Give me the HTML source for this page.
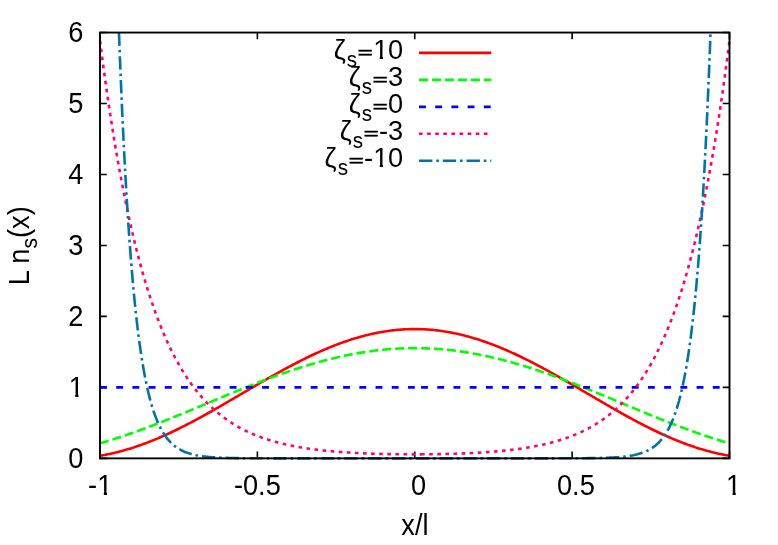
<!DOCTYPE html>
<html><head><meta charset="utf-8"><title>plot</title>
<style>
html,body{margin:0;padding:0;background:#fff;}
svg{display:block;will-change:transform;}
text{font-family:"Liberation Sans", sans-serif;font-size:27.2px;fill:#000;white-space:pre;}
</style></head><body>
<svg width="778" height="545" viewBox="0 0 778 545">
<rect x="0" y="0" width="778" height="545" fill="#ffffff"/>
<defs><clipPath id="c1" clipPathUnits="userSpaceOnUse"><path d="M-5 -40 H40 V-2.73 H9.64 V5 H6.44 V-2.73 H-5 Z"/></clipPath></defs>
<g stroke="#000" stroke-width="1.6" fill="none">
<path d="M100.00 458.35 v-6.80 M100.00 32.55 v6.80"/>
<path d="M257.38 458.35 v-6.80 M257.38 32.55 v6.80"/>
<path d="M414.75 458.35 v-6.80 M414.75 32.55 v6.80"/>
<path d="M572.12 458.35 v-6.80 M572.12 32.55 v6.80"/>
<path d="M729.50 458.35 v-6.80 M729.50 32.55 v6.80"/>
<path d="M100.00 458.35 h6.80 M729.50 458.35 h-6.80"/>
<path d="M100.00 387.38 h6.80 M729.50 387.38 h-6.80"/>
<path d="M100.00 316.42 h6.80 M729.50 316.42 h-6.80"/>
<path d="M100.00 245.45 h6.80 M729.50 245.45 h-6.80"/>
<path d="M100.00 174.48 h6.80 M729.50 174.48 h-6.80"/>
<path d="M100.00 103.52 h6.80 M729.50 103.52 h-6.80"/>
<path d="M100.00 32.55 h6.80 M729.50 32.55 h-6.80"/>
</g>
<g fill="none" stroke-width="2.6" stroke-linejoin="round" stroke-linecap="butt">
<path d="M100.00 455.76 L101.57 455.50 L103.15 455.22 L104.72 454.93 L106.30 454.63 L107.87 454.31 L109.44 453.99 L111.02 453.65 L112.59 453.29 L114.16 452.93 L115.74 452.55 L117.31 452.17 L118.89 451.77 L120.46 451.35 L122.03 450.93 L123.61 450.49 L125.18 450.05 L126.75 449.59 L128.33 449.12 L129.90 448.64 L131.47 448.14 L133.05 447.64 L134.62 447.13 L136.20 446.60 L137.77 446.06 L139.34 445.52 L140.92 444.96 L142.49 444.39 L144.06 443.81 L145.64 443.22 L147.21 442.63 L148.79 442.02 L150.36 441.40 L151.93 440.77 L153.51 440.13 L155.08 439.49 L156.65 438.83 L158.23 438.16 L159.80 437.49 L161.38 436.80 L162.95 436.11 L164.52 435.41 L166.10 434.70 L167.67 433.98 L169.25 433.25 L170.82 432.52 L172.39 431.78 L173.97 431.03 L175.54 430.27 L177.11 429.50 L178.69 428.73 L180.26 427.95 L181.84 427.16 L183.41 426.37 L184.98 425.57 L186.56 424.76 L188.13 423.95 L189.70 423.13 L191.28 422.31 L192.85 421.48 L194.43 420.64 L196.00 419.80 L197.57 418.95 L199.15 418.10 L200.72 417.24 L202.29 416.38 L203.87 415.51 L205.44 414.64 L207.02 413.76 L208.59 412.88 L210.16 412.00 L211.74 411.11 L213.31 410.22 L214.88 409.32 L216.46 408.43 L218.03 407.52 L219.61 406.62 L221.18 405.72 L222.75 404.81 L224.33 403.90 L225.90 402.98 L227.47 402.07 L229.05 401.15 L230.62 400.23 L232.19 399.31 L233.77 398.39 L235.34 397.47 L236.92 396.55 L238.49 395.63 L240.06 394.70 L241.64 393.78 L243.21 392.86 L244.78 391.93 L246.36 391.01 L247.93 390.09 L249.51 389.17 L251.08 388.24 L252.65 387.33 L254.23 386.41 L255.80 385.49 L257.38 384.57 L258.95 383.66 L260.52 382.75 L262.10 381.84 L263.67 380.93 L265.24 380.03 L266.82 379.13 L268.39 378.23 L269.97 377.34 L271.54 376.45 L273.11 375.56 L274.69 374.67 L276.26 373.79 L277.83 372.92 L279.41 372.04 L280.98 371.18 L282.55 370.31 L284.13 369.45 L285.70 368.60 L287.28 367.75 L288.85 366.91 L290.42 366.07 L292.00 365.24 L293.57 364.41 L295.14 363.59 L296.72 362.78 L298.29 361.97 L299.87 361.17 L301.44 360.38 L303.01 359.59 L304.59 358.81 L306.16 358.03 L307.74 357.27 L309.31 356.51 L310.88 355.76 L312.46 355.01 L314.03 354.28 L315.60 353.55 L317.18 352.83 L318.75 352.12 L320.33 351.42 L321.90 350.72 L323.47 350.04 L325.05 349.36 L326.62 348.69 L328.19 348.04 L329.77 347.39 L331.34 346.75 L332.91 346.12 L334.49 345.50 L336.06 344.89 L337.64 344.29 L339.21 343.70 L340.78 343.12 L342.36 342.55 L343.93 341.99 L345.50 341.44 L347.08 340.91 L348.65 340.38 L350.23 339.86 L351.80 339.36 L353.37 338.86 L354.95 338.38 L356.52 337.91 L358.10 337.45 L359.67 337.00 L361.24 336.56 L362.82 336.14 L364.39 335.72 L365.96 335.32 L367.54 334.93 L369.11 334.55 L370.69 334.19 L372.26 333.84 L373.83 333.49 L375.41 333.16 L376.98 332.85 L378.55 332.54 L380.13 332.25 L381.70 331.97 L383.28 331.71 L384.85 331.45 L386.42 331.21 L388.00 330.98 L389.57 330.77 L391.14 330.56 L392.72 330.37 L394.29 330.20 L395.87 330.03 L397.44 329.88 L399.01 329.74 L400.59 329.62 L402.16 329.51 L403.73 329.41 L405.31 329.32 L406.88 329.25 L408.45 329.19 L410.03 329.14 L411.60 329.11 L413.18 329.09 L414.75 329.08 L416.32 329.09 L417.90 329.11 L419.47 329.14 L421.05 329.19 L422.62 329.25 L424.19 329.32 L425.77 329.41 L427.34 329.51 L428.91 329.62 L430.49 329.74 L432.06 329.88 L433.63 330.03 L435.21 330.20 L436.78 330.37 L438.36 330.56 L439.93 330.77 L441.50 330.98 L443.08 331.21 L444.65 331.45 L446.23 331.71 L447.80 331.97 L449.37 332.25 L450.95 332.54 L452.52 332.85 L454.09 333.16 L455.67 333.49 L457.24 333.84 L458.82 334.19 L460.39 334.55 L461.96 334.93 L463.54 335.32 L465.11 335.72 L466.68 336.14 L468.26 336.56 L469.83 337.00 L471.40 337.45 L472.98 337.91 L474.55 338.38 L476.13 338.86 L477.70 339.36 L479.27 339.86 L480.85 340.38 L482.42 340.91 L484.00 341.44 L485.57 341.99 L487.14 342.55 L488.72 343.12 L490.29 343.70 L491.86 344.29 L493.44 344.89 L495.01 345.50 L496.58 346.12 L498.16 346.75 L499.73 347.39 L501.31 348.04 L502.88 348.69 L504.45 349.36 L506.03 350.04 L507.60 350.72 L509.18 351.42 L510.75 352.12 L512.32 352.83 L513.90 353.55 L515.47 354.28 L517.04 355.01 L518.62 355.76 L520.19 356.51 L521.77 357.27 L523.34 358.03 L524.91 358.81 L526.49 359.59 L528.06 360.38 L529.63 361.17 L531.21 361.97 L532.78 362.78 L534.36 363.59 L535.93 364.41 L537.50 365.24 L539.08 366.07 L540.65 366.91 L542.22 367.75 L543.80 368.60 L545.37 369.45 L546.94 370.31 L548.52 371.18 L550.09 372.04 L551.67 372.92 L553.24 373.79 L554.81 374.67 L556.39 375.56 L557.96 376.45 L559.53 377.34 L561.11 378.23 L562.68 379.13 L564.26 380.03 L565.83 380.93 L567.40 381.84 L568.98 382.75 L570.55 383.66 L572.12 384.57 L573.70 385.49 L575.27 386.41 L576.85 387.33 L578.42 388.24 L579.99 389.17 L581.57 390.09 L583.14 391.01 L584.72 391.93 L586.29 392.86 L587.86 393.78 L589.44 394.70 L591.01 395.63 L592.58 396.55 L594.16 397.47 L595.73 398.39 L597.31 399.31 L598.88 400.23 L600.45 401.15 L602.03 402.07 L603.60 402.98 L605.17 403.90 L606.75 404.81 L608.32 405.72 L609.89 406.62 L611.47 407.52 L613.04 408.43 L614.62 409.32 L616.19 410.22 L617.76 411.11 L619.34 412.00 L620.91 412.88 L622.49 413.76 L624.06 414.64 L625.63 415.51 L627.21 416.38 L628.78 417.24 L630.35 418.10 L631.93 418.95 L633.50 419.80 L635.07 420.64 L636.65 421.48 L638.22 422.31 L639.80 423.13 L641.37 423.95 L642.94 424.76 L644.52 425.57 L646.09 426.37 L647.66 427.16 L649.24 427.95 L650.81 428.73 L652.39 429.50 L653.96 430.27 L655.53 431.03 L657.11 431.78 L658.68 432.52 L660.25 433.25 L661.83 433.98 L663.40 434.70 L664.98 435.41 L666.55 436.11 L668.12 436.80 L669.70 437.49 L671.27 438.16 L672.85 438.83 L674.42 439.49 L675.99 440.13 L677.57 440.77 L679.14 441.40 L680.71 442.02 L682.29 442.63 L683.86 443.22 L685.44 443.81 L687.01 444.39 L688.58 444.96 L690.16 445.52 L691.73 446.06 L693.30 446.60 L694.88 447.13 L696.45 447.64 L698.03 448.14 L699.60 448.64 L701.17 449.12 L702.75 449.59 L704.32 450.05 L705.89 450.49 L707.47 450.93 L709.04 451.35 L710.62 451.77 L712.19 452.17 L713.76 452.55 L715.34 452.93 L716.91 453.29 L718.48 453.65 L720.06 453.99 L721.63 454.31 L723.21 454.63 L724.78 454.93 L726.35 455.22 L727.93 455.50 L729.50 455.76" stroke="#ff0000"/>
<path d="M100.00 443.31 L101.57 442.86 L103.15 442.40 L104.72 441.93 L106.30 441.46 L107.87 440.99 L109.44 440.51 L111.02 440.02 L112.59 439.53 L114.16 439.03 L115.74 438.53 L117.31 438.02 L118.89 437.51 L120.46 436.99 L122.03 436.47 L123.61 435.94 L125.18 435.41 L126.75 434.88 L128.33 434.34 L129.90 433.79 L131.47 433.24 L133.05 432.69 L134.62 432.13 L136.20 431.57 L137.77 431.00 L139.34 430.43 L140.92 429.86 L142.49 429.28 L144.06 428.70 L145.64 428.12 L147.21 427.53 L148.79 426.94 L150.36 426.34 L151.93 425.75 L153.51 425.14 L155.08 424.54 L156.65 423.93 L158.23 423.32 L159.80 422.71 L161.38 422.09 L162.95 421.47 L164.52 420.85 L166.10 420.23 L167.67 419.60 L169.25 418.97 L170.82 418.34 L172.39 417.71 L173.97 417.07 L175.54 416.44 L177.11 415.80 L178.69 415.16 L180.26 414.52 L181.84 413.87 L183.41 413.23 L184.98 412.58 L186.56 411.93 L188.13 411.28 L189.70 410.63 L191.28 409.98 L192.85 409.33 L194.43 408.67 L196.00 408.02 L197.57 407.36 L199.15 406.71 L200.72 406.05 L202.29 405.40 L203.87 404.74 L205.44 404.08 L207.02 403.42 L208.59 402.77 L210.16 402.11 L211.74 401.45 L213.31 400.80 L214.88 400.14 L216.46 399.48 L218.03 398.83 L219.61 398.17 L221.18 397.52 L222.75 396.87 L224.33 396.22 L225.90 395.56 L227.47 394.91 L229.05 394.27 L230.62 393.62 L232.19 392.97 L233.77 392.33 L235.34 391.68 L236.92 391.04 L238.49 390.40 L240.06 389.76 L241.64 389.13 L243.21 388.49 L244.78 387.86 L246.36 387.23 L247.93 386.60 L249.51 385.98 L251.08 385.36 L252.65 384.74 L254.23 384.12 L255.80 383.50 L257.38 382.89 L258.95 382.28 L260.52 381.68 L262.10 381.07 L263.67 380.47 L265.24 379.88 L266.82 379.28 L268.39 378.69 L269.97 378.11 L271.54 377.52 L273.11 376.94 L274.69 376.37 L276.26 375.80 L277.83 375.23 L279.41 374.66 L280.98 374.11 L282.55 373.55 L284.13 373.00 L285.70 372.45 L287.28 371.91 L288.85 371.37 L290.42 370.84 L292.00 370.31 L293.57 369.78 L295.14 369.26 L296.72 368.75 L298.29 368.24 L299.87 367.73 L301.44 367.23 L303.01 366.74 L304.59 366.25 L306.16 365.76 L307.74 365.29 L309.31 364.81 L310.88 364.34 L312.46 363.88 L314.03 363.42 L315.60 362.97 L317.18 362.53 L318.75 362.09 L320.33 361.65 L321.90 361.23 L323.47 360.80 L325.05 360.39 L326.62 359.98 L328.19 359.57 L329.77 359.18 L331.34 358.78 L332.91 358.40 L334.49 358.02 L336.06 357.65 L337.64 357.28 L339.21 356.92 L340.78 356.57 L342.36 356.23 L343.93 355.89 L345.50 355.55 L347.08 355.23 L348.65 354.91 L350.23 354.60 L351.80 354.29 L353.37 353.99 L354.95 353.70 L356.52 353.42 L358.10 353.14 L359.67 352.87 L361.24 352.61 L362.82 352.35 L364.39 352.10 L365.96 351.86 L367.54 351.63 L369.11 351.40 L370.69 351.18 L372.26 350.97 L373.83 350.77 L375.41 350.57 L376.98 350.38 L378.55 350.20 L380.13 350.03 L381.70 349.86 L383.28 349.70 L384.85 349.55 L386.42 349.41 L388.00 349.27 L389.57 349.14 L391.14 349.02 L392.72 348.91 L394.29 348.80 L395.87 348.70 L397.44 348.61 L399.01 348.53 L400.59 348.46 L402.16 348.39 L403.73 348.33 L405.31 348.28 L406.88 348.24 L408.45 348.20 L410.03 348.18 L411.60 348.16 L413.18 348.14 L414.75 348.14 L416.32 348.14 L417.90 348.16 L419.47 348.18 L421.05 348.20 M421.05 348.20 L421.05 348.20 L422.62 348.24 L424.19 348.28 L425.77 348.33 L427.34 348.39 L428.91 348.46 L430.49 348.53 L432.06 348.61 L433.63 348.70 L435.21 348.80 L436.78 348.91 L438.36 349.02 L439.93 349.14 L441.50 349.27 L443.08 349.41 L444.65 349.55 L446.23 349.70 L447.80 349.86 L449.37 350.03 L450.95 350.20 L452.52 350.38 L454.09 350.57 L455.67 350.77 L457.24 350.97 L458.82 351.18 L460.39 351.40 L461.96 351.63 L463.54 351.86 L465.11 352.10 L466.68 352.35 L468.26 352.61 L469.83 352.87 L471.40 353.14 L472.98 353.42 L474.55 353.70 L476.13 353.99 L477.70 354.29 L479.27 354.60 L480.85 354.91 L482.42 355.23 L484.00 355.55 L485.57 355.89 L487.14 356.23 L488.72 356.57 L490.29 356.92 L491.86 357.28 L493.44 357.65 L495.01 358.02 L496.58 358.40 L498.16 358.78 L499.73 359.18 L501.31 359.57 L502.88 359.98 L504.45 360.39 L506.03 360.80 L507.60 361.23 L509.18 361.65 L510.75 362.09 L512.32 362.53 L513.90 362.97 L515.47 363.42 L517.04 363.88 L518.62 364.34 L520.19 364.81 L521.77 365.29 L523.34 365.76 L524.91 366.25 L526.49 366.74 L528.06 367.23 L529.63 367.73 L531.21 368.24 L532.78 368.75 L534.36 369.26 L535.93 369.78 L537.50 370.31 L539.08 370.84 L540.65 371.37 L542.22 371.91 L543.80 372.45 L545.37 373.00 L546.94 373.55 L548.52 374.11 L550.09 374.66 L551.67 375.23 L553.24 375.80 L554.81 376.37 L556.39 376.94 L557.96 377.52 L559.53 378.11 L561.11 378.69 L562.68 379.28 L564.26 379.88 L565.83 380.47 L567.40 381.07 L568.98 381.68 L570.55 382.28 L572.12 382.89 L573.70 383.50 L575.27 384.12 L576.85 384.74 L578.42 385.36 L579.99 385.98 L581.57 386.60 L583.14 387.23 L584.72 387.86 L586.29 388.49 L587.86 389.13 L589.44 389.76 L591.01 390.40 L592.58 391.04 L594.16 391.68 L595.73 392.33 L597.31 392.97 L598.88 393.62 L600.45 394.27 L602.03 394.91 L603.60 395.56 L605.17 396.22 L606.75 396.87 L608.32 397.52 L609.89 398.17 L611.47 398.83 L613.04 399.48 L614.62 400.14 L616.19 400.80 L617.76 401.45 L619.34 402.11 L620.91 402.77 L622.49 403.42 L624.06 404.08 L625.63 404.74 L627.21 405.40 L628.78 406.05 L630.35 406.71 L631.93 407.36 L633.50 408.02 L635.07 408.67 L636.65 409.33 L638.22 409.98 L639.80 410.63 L641.37 411.28 L642.94 411.93 L644.52 412.58 L646.09 413.23 L647.66 413.87 L649.24 414.52 L650.81 415.16 L652.39 415.80 L653.96 416.44 L655.53 417.07 L657.11 417.71 L658.68 418.34 L660.25 418.97 L661.83 419.60 L663.40 420.23 L664.98 420.85 L666.55 421.47 L668.12 422.09 L669.70 422.71 L671.27 423.32 L672.85 423.93 L674.42 424.54 L675.99 425.14 L677.57 425.75 L679.14 426.34 L680.71 426.94 L682.29 427.53 L683.86 428.12 L685.44 428.70 L687.01 429.28 L688.58 429.86 L690.16 430.43 L691.73 431.00 L693.30 431.57 L694.88 432.13 L696.45 432.69 L698.03 433.24 L699.60 433.79 L701.17 434.34 L702.75 434.88 L704.32 435.41 L705.89 435.94 L707.47 436.47 L709.04 436.99 L710.62 437.51 L712.19 438.02 L713.76 438.53 L715.34 439.03 L716.91 439.53 L718.48 440.02 L720.06 440.51 L721.63 440.99 L723.21 441.46 L724.78 441.93 L726.35 442.40 L727.93 442.86 L729.50 443.31" stroke="#00ff00" stroke-dasharray="9.044 3.922"/>
<path d="M100.00 387.38 L101.57 387.38 L103.15 387.38 L104.72 387.38 L106.30 387.38 L107.87 387.38 L109.44 387.38 L111.02 387.38 L112.59 387.38 L114.16 387.38 L115.74 387.38 L117.31 387.38 L118.89 387.38 L120.46 387.38 L122.03 387.38 L123.61 387.38 L125.18 387.38 L126.75 387.38 L128.33 387.38 L129.90 387.38 L131.47 387.38 L133.05 387.38 L134.62 387.38 L136.20 387.38 L137.77 387.38 L139.34 387.38 L140.92 387.38 L142.49 387.38 L144.06 387.38 L145.64 387.38 L147.21 387.38 L148.79 387.38 L150.36 387.38 L151.93 387.38 L153.51 387.38 L155.08 387.38 L156.65 387.38 L158.23 387.38 L159.80 387.38 L161.38 387.38 L162.95 387.38 L164.52 387.38 L166.10 387.38 L167.67 387.38 L169.25 387.38 L170.82 387.38 L172.39 387.38 L173.97 387.38 L175.54 387.38 L177.11 387.38 L178.69 387.38 L180.26 387.38 L181.84 387.38 L183.41 387.38 L184.98 387.38 L186.56 387.38 L188.13 387.38 L189.70 387.38 L191.28 387.38 L192.85 387.38 L194.43 387.38 L196.00 387.38 L197.57 387.38 L199.15 387.38 L200.72 387.38 L202.29 387.38 L203.87 387.38 L205.44 387.38 L207.02 387.38 L208.59 387.38 L210.16 387.38 L211.74 387.38 L213.31 387.38 L214.88 387.38 L216.46 387.38 L218.03 387.38 L219.61 387.38 L221.18 387.38 L222.75 387.38 L224.33 387.38 L225.90 387.38 L227.47 387.38 L229.05 387.38 L230.62 387.38 L232.19 387.38 L233.77 387.38 L235.34 387.38 L236.92 387.38 L238.49 387.38 L240.06 387.38 L241.64 387.38 L243.21 387.38 L244.78 387.38 L246.36 387.38 L247.93 387.38 L249.51 387.38 L251.08 387.38 L252.65 387.38 L254.23 387.38 L255.80 387.38 L257.38 387.38 L258.95 387.38 L260.52 387.38 L262.10 387.38 L263.67 387.38 L265.24 387.38 L266.82 387.38 L268.39 387.38 L269.97 387.38 L271.54 387.38 L273.11 387.38 L274.69 387.38 L276.26 387.38 L277.83 387.38 L279.41 387.38 L280.98 387.38 L282.55 387.38 L284.13 387.38 L285.70 387.38 L287.28 387.38 L288.85 387.38 L290.42 387.38 L292.00 387.38 L293.57 387.38 L295.14 387.38 L296.72 387.38 L298.29 387.38 L299.87 387.38 L301.44 387.38 L303.01 387.38 L304.59 387.38 L306.16 387.38 L307.74 387.38 L309.31 387.38 L310.88 387.38 L312.46 387.38 L314.03 387.38 L315.60 387.38 L317.18 387.38 L318.75 387.38 L320.33 387.38 L321.90 387.38 L323.47 387.38 L325.05 387.38 L326.62 387.38 L328.19 387.38 L329.77 387.38 L331.34 387.38 L332.91 387.38 L334.49 387.38 L336.06 387.38 L337.64 387.38 L339.21 387.38 L340.78 387.38 L342.36 387.38 L343.93 387.38 L345.50 387.38 L347.08 387.38 L348.65 387.38 L350.23 387.38 L351.80 387.38 L353.37 387.38 L354.95 387.38 L356.52 387.38 L358.10 387.38 L359.67 387.38 L361.24 387.38 L362.82 387.38 L364.39 387.38 L365.96 387.38 L367.54 387.38 L369.11 387.38 L370.69 387.38 L372.26 387.38 L373.83 387.38 L375.41 387.38 L376.98 387.38 L378.55 387.38 L380.13 387.38 L381.70 387.38 L383.28 387.38 L384.85 387.38 L386.42 387.38 L388.00 387.38 L389.57 387.38 L391.14 387.38 L392.72 387.38 L394.29 387.38 L395.87 387.38 L397.44 387.38 L399.01 387.38 L400.59 387.38 L402.16 387.38 L403.73 387.38 L405.31 387.38 L406.88 387.38 L408.45 387.38 L410.03 387.38 L411.60 387.38 L413.18 387.38 L414.75 387.38 L416.32 387.38 L417.90 387.38 L419.47 387.38 L421.05 387.38 M421.05 387.38 L421.05 387.38 L422.62 387.38 L424.19 387.38 L425.77 387.38 L427.34 387.38 L428.91 387.38 L430.49 387.38 L432.06 387.38 L433.63 387.38 L435.21 387.38 L436.78 387.38 L438.36 387.38 L439.93 387.38 L441.50 387.38 L443.08 387.38 L444.65 387.38 L446.23 387.38 L447.80 387.38 L449.37 387.38 L450.95 387.38 L452.52 387.38 L454.09 387.38 L455.67 387.38 L457.24 387.38 L458.82 387.38 L460.39 387.38 L461.96 387.38 L463.54 387.38 L465.11 387.38 L466.68 387.38 L468.26 387.38 L469.83 387.38 L471.40 387.38 L472.98 387.38 L474.55 387.38 L476.13 387.38 L477.70 387.38 L479.27 387.38 L480.85 387.38 L482.42 387.38 L484.00 387.38 L485.57 387.38 L487.14 387.38 L488.72 387.38 L490.29 387.38 L491.86 387.38 L493.44 387.38 L495.01 387.38 L496.58 387.38 L498.16 387.38 L499.73 387.38 L501.31 387.38 L502.88 387.38 L504.45 387.38 L506.03 387.38 L507.60 387.38 L509.18 387.38 L510.75 387.38 L512.32 387.38 L513.90 387.38 L515.47 387.38 L517.04 387.38 L518.62 387.38 L520.19 387.38 L521.77 387.38 L523.34 387.38 L524.91 387.38 L526.49 387.38 L528.06 387.38 L529.63 387.38 L531.21 387.38 L532.78 387.38 L534.36 387.38 L535.93 387.38 L537.50 387.38 L539.08 387.38 L540.65 387.38 L542.22 387.38 L543.80 387.38 L545.37 387.38 L546.94 387.38 L548.52 387.38 L550.09 387.38 L551.67 387.38 L553.24 387.38 L554.81 387.38 L556.39 387.38 L557.96 387.38 L559.53 387.38 L561.11 387.38 L562.68 387.38 L564.26 387.38 L565.83 387.38 L567.40 387.38 L568.98 387.38 L570.55 387.38 L572.12 387.38 L573.70 387.38 L575.27 387.38 L576.85 387.38 L578.42 387.38 L579.99 387.38 L581.57 387.38 L583.14 387.38 L584.72 387.38 L586.29 387.38 L587.86 387.38 L589.44 387.38 L591.01 387.38 L592.58 387.38 L594.16 387.38 L595.73 387.38 L597.31 387.38 L598.88 387.38 L600.45 387.38 L602.03 387.38 L603.60 387.38 L605.17 387.38 L606.75 387.38 L608.32 387.38 L609.89 387.38 L611.47 387.38 L613.04 387.38 L614.62 387.38 L616.19 387.38 L617.76 387.38 L619.34 387.38 L620.91 387.38 L622.49 387.38 L624.06 387.38 L625.63 387.38 L627.21 387.38 L628.78 387.38 L630.35 387.38 L631.93 387.38 L633.50 387.38 L635.07 387.38 L636.65 387.38 L638.22 387.38 L639.80 387.38 L641.37 387.38 L642.94 387.38 L644.52 387.38 L646.09 387.38 L647.66 387.38 L649.24 387.38 L650.81 387.38 L652.39 387.38 L653.96 387.38 L655.53 387.38 L657.11 387.38 L658.68 387.38 L660.25 387.38 L661.83 387.38 L663.40 387.38 L664.98 387.38 L666.55 387.38 L668.12 387.38 L669.70 387.38 L671.27 387.38 L672.85 387.38 L674.42 387.38 L675.99 387.38 L677.57 387.38 L679.14 387.38 L680.71 387.38 L682.29 387.38 L683.86 387.38 L685.44 387.38 L687.01 387.38 L688.58 387.38 L690.16 387.38 L691.73 387.38 L693.30 387.38 L694.88 387.38 L696.45 387.38 L698.03 387.38 L699.60 387.38 L701.17 387.38 L702.75 387.38 L704.32 387.38 L705.89 387.38 L707.47 387.38 L709.04 387.38 L710.62 387.38 L712.19 387.38 L713.76 387.38 L715.34 387.38 L716.91 387.38 L718.48 387.38 L720.06 387.38 L721.63 387.38 L723.21 387.38 L724.78 387.38 L726.35 387.38 L727.93 387.38 L729.50 387.38" stroke="#0000ff" stroke-dasharray="6.883 9.325"/>
<path d="M100.00 40.56 L101.57 52.91 L103.15 64.89 L104.72 76.51 L106.30 87.79 L107.87 98.73 L109.44 109.35 L111.02 119.66 L112.59 129.65 L114.16 139.36 L115.74 148.77 L117.31 157.90 L118.89 166.76 L120.46 175.36 L122.03 183.71 L123.61 191.80 L125.18 199.66 L126.75 207.28 L128.33 214.68 L129.90 221.85 L131.47 228.82 L133.05 235.57 L134.62 242.13 L136.20 248.49 L137.77 254.66 L139.34 260.65 L140.92 266.46 L142.49 272.10 L144.06 277.57 L145.64 282.88 L147.21 288.03 L148.79 293.03 L150.36 297.88 L151.93 302.58 L153.51 307.15 L155.08 311.58 L156.65 315.88 L158.23 320.05 L159.80 324.09 L161.38 328.02 L162.95 331.83 L164.52 335.53 L166.10 339.12 L167.67 342.60 L169.25 345.97 L170.82 349.25 L172.39 352.43 L173.97 355.52 L175.54 358.51 L177.11 361.41 L178.69 364.23 L180.26 366.97 L181.84 369.62 L183.41 372.19 L184.98 374.69 L186.56 377.12 L188.13 379.47 L189.70 381.75 L191.28 383.97 L192.85 386.11 L194.43 388.20 L196.00 390.22 L197.57 392.18 L199.15 394.09 L200.72 395.94 L202.29 397.73 L203.87 399.47 L205.44 401.16 L207.02 402.79 L208.59 404.38 L210.16 405.93 L211.74 407.42 L213.31 408.87 L214.88 410.28 L216.46 411.65 L218.03 412.97 L219.61 414.26 L221.18 415.51 L222.75 416.72 L224.33 417.90 L225.90 419.04 L227.47 420.14 L229.05 421.22 L230.62 422.26 L232.19 423.27 L233.77 424.25 L235.34 425.20 L236.92 426.12 L238.49 427.02 L240.06 427.89 L241.64 428.73 L243.21 429.55 L244.78 430.34 L246.36 431.11 L247.93 431.86 L249.51 432.58 L251.08 433.29 L252.65 433.97 L254.23 434.63 L255.80 435.27 L257.38 435.90 L258.95 436.50 L260.52 437.09 L262.10 437.65 L263.67 438.21 L265.24 438.74 L266.82 439.26 L268.39 439.77 L269.97 440.25 L271.54 440.73 L273.11 441.19 L274.69 441.63 L276.26 442.07 L277.83 442.49 L279.41 442.89 L280.98 443.29 L282.55 443.67 L284.13 444.04 L285.70 444.40 L287.28 444.75 L288.85 445.09 L290.42 445.42 L292.00 445.74 L293.57 446.05 L295.14 446.35 L296.72 446.64 L298.29 446.92 L299.87 447.20 L301.44 447.46 L303.01 447.72 L304.59 447.97 L306.16 448.21 L307.74 448.44 L309.31 448.67 L310.88 448.89 L312.46 449.10 L314.03 449.31 L315.60 449.51 L317.18 449.70 L318.75 449.89 L320.33 450.07 L321.90 450.25 L323.47 450.42 L325.05 450.59 L326.62 450.75 L328.19 450.90 L329.77 451.05 L331.34 451.20 L332.91 451.34 L334.49 451.47 L336.06 451.61 L337.64 451.73 L339.21 451.86 L340.78 451.98 L342.36 452.09 L343.93 452.20 L345.50 452.31 L347.08 452.41 L348.65 452.51 L350.23 452.61 L351.80 452.70 L353.37 452.79 L354.95 452.88 L356.52 452.97 L358.10 453.05 L359.67 453.12 L361.24 453.20 L362.82 453.27 L364.39 453.34 L365.96 453.41 L367.54 453.47 L369.11 453.53 L370.69 453.59 L372.26 453.64 L373.83 453.70 L375.41 453.75 L376.98 453.80 L378.55 453.84 L380.13 453.89 L381.70 453.93 L383.28 453.97 L384.85 454.01 L386.42 454.04 L388.00 454.08 L389.57 454.11 L391.14 454.14 L392.72 454.16 L394.29 454.19 L395.87 454.21 L397.44 454.23 L399.01 454.25 L400.59 454.27 L402.16 454.29 L403.73 454.30 L405.31 454.31 L406.88 454.32 L408.45 454.33 L410.03 454.34 L411.60 454.34 L413.18 454.34 L414.75 454.35 L416.32 454.34 L417.90 454.34 L419.47 454.34 L421.05 454.33 M421.05 454.33 L421.05 454.33 L422.62 454.32 L424.19 454.31 L425.77 454.30 L427.34 454.29 L428.91 454.27 L430.49 454.25 L432.06 454.23 L433.63 454.21 L435.21 454.19 L436.78 454.16 L438.36 454.14 L439.93 454.11 L441.50 454.08 L443.08 454.04 L444.65 454.01 L446.23 453.97 L447.80 453.93 L449.37 453.89 L450.95 453.84 L452.52 453.80 L454.09 453.75 L455.67 453.70 L457.24 453.64 L458.82 453.59 L460.39 453.53 L461.96 453.47 L463.54 453.41 L465.11 453.34 L466.68 453.27 L468.26 453.20 L469.83 453.12 L471.40 453.05 L472.98 452.97 L474.55 452.88 L476.13 452.79 L477.70 452.70 L479.27 452.61 L480.85 452.51 L482.42 452.41 L484.00 452.31 L485.57 452.20 L487.14 452.09 L488.72 451.98 L490.29 451.86 L491.86 451.73 L493.44 451.61 L495.01 451.47 L496.58 451.34 L498.16 451.20 L499.73 451.05 L501.31 450.90 L502.88 450.75 L504.45 450.59 L506.03 450.42 L507.60 450.25 L509.18 450.07 L510.75 449.89 L512.32 449.70 L513.90 449.51 L515.47 449.31 L517.04 449.10 L518.62 448.89 L520.19 448.67 L521.77 448.44 L523.34 448.21 L524.91 447.97 L526.49 447.72 L528.06 447.46 L529.63 447.20 L531.21 446.92 L532.78 446.64 L534.36 446.35 L535.93 446.05 L537.50 445.74 L539.08 445.42 L540.65 445.09 L542.22 444.75 L543.80 444.40 L545.37 444.04 L546.94 443.67 L548.52 443.29 L550.09 442.89 L551.67 442.49 L553.24 442.07 L554.81 441.63 L556.39 441.19 L557.96 440.73 L559.53 440.25 L561.11 439.77 L562.68 439.26 L564.26 438.74 L565.83 438.21 L567.40 437.65 L568.98 437.09 L570.55 436.50 L572.12 435.90 L573.70 435.27 L575.27 434.63 L576.85 433.97 L578.42 433.29 L579.99 432.58 L581.57 431.86 L583.14 431.11 L584.72 430.34 L586.29 429.55 L587.86 428.73 L589.44 427.89 L591.01 427.02 L592.58 426.12 L594.16 425.20 L595.73 424.25 L597.31 423.27 L598.88 422.26 L600.45 421.22 L602.03 420.14 L603.60 419.04 L605.17 417.90 L606.75 416.72 L608.32 415.51 L609.89 414.26 L611.47 412.97 L613.04 411.65 L614.62 410.28 L616.19 408.87 L617.76 407.42 L619.34 405.93 L620.91 404.38 L622.49 402.79 L624.06 401.16 L625.63 399.47 L627.21 397.73 L628.78 395.94 L630.35 394.09 L631.93 392.18 L633.50 390.22 L635.07 388.20 L636.65 386.11 L638.22 383.97 L639.80 381.75 L641.37 379.47 L642.94 377.12 L644.52 374.69 L646.09 372.19 L647.66 369.62 L649.24 366.97 L650.81 364.23 L652.39 361.41 L653.96 358.51 L655.53 355.52 L657.11 352.43 L658.68 349.25 L660.25 345.97 L661.83 342.60 L663.40 339.12 L664.98 335.53 L666.55 331.83 L668.12 328.02 L669.70 324.09 L671.27 320.05 L672.85 315.88 L674.42 311.58 L675.99 307.15 L677.57 302.58 L679.14 297.88 L680.71 293.03 L682.29 288.03 L683.86 282.88 L685.44 277.57 L687.01 272.10 L688.58 266.46 L690.16 260.65 L691.73 254.66 L693.30 248.49 L694.88 242.13 L696.45 235.57 L698.03 228.82 L699.60 221.85 L701.17 214.68 L702.75 207.28 L704.32 199.66 L705.89 191.80 L707.47 183.71 L709.04 175.36 L710.62 166.76 L712.19 157.90 L713.76 148.77 L715.34 139.36 L716.91 129.65 L718.48 119.66 L720.06 109.35 L721.63 98.73 L723.21 87.79 L724.78 76.51 L726.35 64.89 L727.93 52.91 L729.50 40.56" stroke="#ff0078" stroke-dasharray="3.642 4.462"/>
<path d="M118.95 32.55 L120.46 71.54 L122.03 108.35 L123.61 141.65 L125.18 171.79 L126.75 199.06 L128.33 223.74 L129.90 246.06 L131.47 266.26 L133.05 284.54 L134.62 301.08 L136.20 316.05 L137.77 329.59 L139.34 341.84 L140.92 352.93 L142.49 362.96 L144.06 372.04 L145.64 380.25 L147.21 387.69 L148.79 394.41 L150.36 400.49 L151.93 406.00 L153.51 410.98 L155.08 415.49 L156.65 419.57 L158.23 423.26 L159.80 426.60 L161.38 429.62 L162.95 432.35 L164.52 434.83 L166.10 437.07 L167.67 439.09 L169.25 440.92 L170.82 442.58 L172.39 444.08 L173.97 445.44 L175.54 446.67 L177.11 447.78 L178.69 448.79 L180.26 449.70 L181.84 450.52 L183.41 451.27 L184.98 451.94 L186.56 452.55 L188.13 453.10 L189.70 453.60 L191.28 454.05 L192.85 454.46 L194.43 454.83 L196.00 455.17 L197.57 455.47 L199.15 455.74 L200.72 455.99 L202.29 456.22 L203.87 456.42 L205.44 456.60 L207.02 456.77 L208.59 456.92 L210.16 457.06 L211.74 457.18 L213.31 457.29 L214.88 457.39 L216.46 457.48 L218.03 457.56 L219.61 457.64 L221.18 457.71 L222.75 457.77 L224.33 457.82 L225.90 457.87 L227.47 457.92 L229.05 457.96 L230.62 458.00 L232.19 458.03 L233.77 458.06 L235.34 458.09 L236.92 458.11 L238.49 458.14 L240.06 458.16 L241.64 458.17 L243.21 458.19 L244.78 458.21 L246.36 458.22 L247.93 458.23 L249.51 458.24 L251.08 458.25 L252.65 458.26 L254.23 458.27 L255.80 458.28 L257.38 458.29 L258.95 458.29 L260.52 458.30 L262.10 458.30 L263.67 458.31 L265.24 458.31 L266.82 458.31 L268.39 458.32 L269.97 458.32 L271.54 458.32 L273.11 458.33 L274.69 458.33 L276.26 458.33 L277.83 458.33 L279.41 458.33 L280.98 458.34 L282.55 458.34 L284.13 458.34 L285.70 458.34 L287.28 458.34 L288.85 458.34 L290.42 458.34 L292.00 458.34 L293.57 458.34 L295.14 458.34 L296.72 458.34 L298.29 458.35 L299.87 458.35 L301.44 458.35 L303.01 458.35 L304.59 458.35 L306.16 458.35 L307.74 458.35 L309.31 458.35 L310.88 458.35 L312.46 458.35 L314.03 458.35 L315.60 458.35 L317.18 458.35 L318.75 458.35 L320.33 458.35 L321.90 458.35 L323.47 458.35 L325.05 458.35 L326.62 458.35 L328.19 458.35 L329.77 458.35 L331.34 458.35 L332.91 458.35 L334.49 458.35 L336.06 458.35 L337.64 458.35 L339.21 458.35 L340.78 458.35 L342.36 458.35 L343.93 458.35 L345.50 458.35 L347.08 458.35 L348.65 458.35 L350.23 458.35 L351.80 458.35 L353.37 458.35 L354.95 458.35 L356.52 458.35 L358.10 458.35 L359.67 458.35 L361.24 458.35 L362.82 458.35 L364.39 458.35 L365.96 458.35 L367.54 458.35 L369.11 458.35 L370.69 458.35 L372.26 458.35 L373.83 458.35 L375.41 458.35 L376.98 458.35 L378.55 458.35 L380.13 458.35 L381.70 458.35 L383.28 458.35 L384.85 458.35 L386.42 458.35 L388.00 458.35 L389.57 458.35 L391.14 458.35 L392.72 458.35 L394.29 458.35 L395.87 458.35 L397.44 458.35 L399.01 458.35 L400.59 458.35 L402.16 458.35 L403.73 458.35 L405.31 458.35 L406.88 458.35 L408.45 458.35 L410.03 458.35 L411.60 458.35 L413.18 458.35 L414.75 458.35 L416.32 458.35 L417.90 458.35 L419.47 458.35 L421.05 458.35 L422.62 458.35 L424.19 458.35 L425.77 458.35 L427.34 458.35 L428.91 458.35 L430.49 458.35 L432.06 458.35 L433.63 458.35 L435.21 458.35 L436.78 458.35 L438.36 458.35 L439.93 458.35 L441.50 458.35 L443.08 458.35 L444.65 458.35 L446.23 458.35 L447.80 458.35 L449.37 458.35 L450.95 458.35 L452.52 458.35 L454.09 458.35 L455.67 458.35 L457.24 458.35 L458.82 458.35 L460.39 458.35 L461.96 458.35 L463.54 458.35 L465.11 458.35 L466.68 458.35 L468.26 458.35 L469.83 458.35 L471.40 458.35 L472.98 458.35 L474.55 458.35 L476.13 458.35 L477.70 458.35 L479.27 458.35 L480.85 458.35 L482.42 458.35 L484.00 458.35 L485.57 458.35 L487.14 458.35 L488.72 458.35 L490.29 458.35 L491.86 458.35 L493.44 458.35 L495.01 458.35 L496.58 458.35 L498.16 458.35 L499.73 458.35 L501.31 458.35 L502.88 458.35 L504.45 458.35 L506.03 458.35 L507.60 458.35 L509.18 458.35 L510.75 458.35 L512.32 458.35 L513.90 458.35 L515.47 458.35 L517.04 458.35 L518.62 458.35 L520.19 458.35 L521.77 458.35 L523.34 458.35 L524.91 458.35 L526.49 458.35 L528.06 458.35 L529.63 458.35 L531.21 458.35 L532.78 458.34 L534.36 458.34 L535.93 458.34 L537.50 458.34 L539.08 458.34 L540.65 458.34 L542.22 458.34 L543.80 458.34 L545.37 458.34 L546.94 458.34 L548.52 458.34 L550.09 458.33 L551.67 458.33 L553.24 458.33 L554.81 458.33 L556.39 458.33 L557.96 458.32 L559.53 458.32 L561.11 458.32 L562.68 458.31 L564.26 458.31 L565.83 458.31 L567.40 458.30 L568.98 458.30 L570.55 458.29 L572.12 458.29 L573.70 458.28 L575.27 458.27 L576.85 458.26 L578.42 458.25 L579.99 458.24 L581.57 458.23 L583.14 458.22 L584.72 458.21 L586.29 458.19 L587.86 458.17 L589.44 458.16 L591.01 458.14 L592.58 458.11 L594.16 458.09 L595.73 458.06 L597.31 458.03 L598.88 458.00 L600.45 457.96 L602.03 457.92 L603.60 457.87 L605.17 457.82 L606.75 457.77 L608.32 457.71 L609.89 457.64 L611.47 457.56 L613.04 457.48 L614.62 457.39 L616.19 457.29 L617.76 457.18 L619.34 457.06 L620.91 456.92 L622.49 456.77 L624.06 456.60 L625.63 456.42 L627.21 456.22 L628.78 455.99 L630.35 455.74 L631.93 455.47 L633.50 455.17 L635.07 454.83 L636.65 454.46 L638.22 454.05 L639.80 453.60 L641.37 453.10 L642.94 452.55 L644.52 451.94 L646.09 451.27 L647.66 450.52 L649.24 449.70 L650.81 448.79 L652.39 447.78 L653.96 446.67 L655.53 445.44 L657.11 444.08 L658.68 442.58 L660.25 440.92 L661.83 439.09 L663.40 437.07 L664.98 434.83 L666.55 432.35 L668.12 429.62 L669.70 426.60 L671.27 423.26 L672.85 419.57 L674.42 415.49 L675.99 410.98 L677.57 406.00 L679.14 400.49 L680.71 394.41 L682.29 387.69 L683.86 380.25 L685.44 372.04 L687.01 362.96 L688.58 352.93 L690.16 341.84 L691.73 329.59 L693.30 316.05 L694.88 301.08 L696.45 284.54 L698.03 266.26 L699.60 246.06 L701.17 223.74 L702.75 199.06 L704.32 171.79 L705.89 141.65 L707.47 108.35 L709.04 71.54 L710.55 32.55" stroke="#0074aa" stroke-dasharray="13.367 3.922 2.561 3.922"/>
</g>
<g fill="none" stroke-width="2.6">
<path d="M419.0 52.9 H491.3" stroke="#ff0000"/>
<path d="M419.0 79.9 H491.3" stroke="#00ff00" stroke-dasharray="9.044 3.922"/>
<path d="M419.0 106.9 H491.3" stroke="#0000ff" stroke-dasharray="6.883 9.325"/>
<path d="M419.0 133.8 H491.3" stroke="#ff0078" stroke-dasharray="3.642 4.462"/>
<path d="M419.0 160.8 H491.3" stroke="#0074aa" stroke-dasharray="13.367 3.922 2.561 3.922"/>
</g>
<text transform="translate(333.63 58.90) scale(1 1.035)">ζ</text>
<text transform="translate(346.72 66.90) scale(1 1.035)" style="font-size:20.67px">s</text>
<text transform="translate(357.71 58.01) scale(0.93 0.560)" stroke="#000" stroke-width="1.2">=</text>
<g transform="translate(372.95 58.90) scale(1 1.035)"><text transform="translate(0.40 0)" clip-path="url(#c1)">1</text><text x="15.13" y="0">0</text></g>
<text transform="translate(348.76 85.90) scale(1 1.035)">ζ</text>
<text transform="translate(361.85 93.90) scale(1 1.035)" style="font-size:20.67px">s</text>
<text transform="translate(372.84 85.01) scale(0.93 0.560)" stroke="#000" stroke-width="1.2">=</text>
<g transform="translate(388.07 85.90) scale(1 1.035)"><text x="0.00" y="0">3</text></g>
<text transform="translate(348.76 112.90) scale(1 1.035)">ζ</text>
<text transform="translate(361.85 120.90) scale(1 1.035)" style="font-size:20.67px">s</text>
<text transform="translate(372.84 112.01) scale(0.93 0.560)" stroke="#000" stroke-width="1.2">=</text>
<g transform="translate(388.07 112.90) scale(1 1.035)"><text x="0.00" y="0">0</text></g>
<text transform="translate(339.70 139.85) scale(1 1.035)">ζ</text>
<text transform="translate(352.79 147.85) scale(1 1.035)" style="font-size:20.67px">s</text>
<text transform="translate(363.78 138.96) scale(0.93 0.560)" stroke="#000" stroke-width="1.2">=</text>
<g transform="translate(379.01 139.85) scale(1 1.035)"><text x="0.00" y="0">-3</text></g>
<text transform="translate(324.57 166.85) scale(1 1.035)">ζ</text>
<text transform="translate(337.67 174.85) scale(1 1.035)" style="font-size:20.67px">s</text>
<text transform="translate(348.65 165.96) scale(0.93 0.560)" stroke="#000" stroke-width="1.2">=</text>
<g transform="translate(363.89 166.85) scale(1 1.035)"><text x="0.00" y="0">-</text><text transform="translate(9.46 0)" clip-path="url(#c1)">1</text><text x="24.19" y="0">0</text></g>
<rect x="100.00" y="32.55" width="629.50" height="425.80" fill="none" stroke="#000" stroke-width="1.9"/>
<g transform="translate(87.91 494.90) scale(1 1.055)"><text x="0.00" y="0">-</text><text transform="translate(9.46 0)" clip-path="url(#c1)">1</text></g>
<g transform="translate(233.94 494.90) scale(1 1.055)"><text x="0.00" y="0">-0.5</text></g>
<g transform="translate(403.41 494.90) scale(1 1.055)"><text x="0.00" y="0"> 0</text></g>
<g transform="translate(549.44 494.90) scale(1 1.055)"><text x="0.00" y="0"> 0.5</text></g>
<g transform="translate(718.16 494.90) scale(1 1.055)"><text transform="translate(7.96 0)" clip-path="url(#c1)">1</text></g>
<g transform="translate(68.37 467.65) scale(1 1.055)"><text x="0.00" y="0">0</text></g>
<g transform="translate(68.37 396.68) scale(1 1.055)"><text transform="translate(0.40 0)" clip-path="url(#c1)">1</text></g>
<g transform="translate(68.37 325.72) scale(1 1.055)"><text x="0.00" y="0">2</text></g>
<g transform="translate(68.37 254.75) scale(1 1.055)"><text x="0.00" y="0">3</text></g>
<g transform="translate(68.37 183.78) scale(1 1.055)"><text x="0.00" y="0">4</text></g>
<g transform="translate(68.37 112.82) scale(1 1.055)"><text x="0.00" y="0">5</text></g>
<g transform="translate(68.37 41.85) scale(1 1.055)"><text x="0.00" y="0">6</text></g>
<text transform="translate(414.90 534.60) scale(1.0 1.055)" text-anchor="middle">x/l</text>
<text transform="translate(28.50 245.80) rotate(-90) scale(1.0 1.055)" text-anchor="middle">L n<tspan dy="7.6" style="font-size:21.2px">s</tspan><tspan dy="-7.6">(x)</tspan></text>
</svg></body></html>
